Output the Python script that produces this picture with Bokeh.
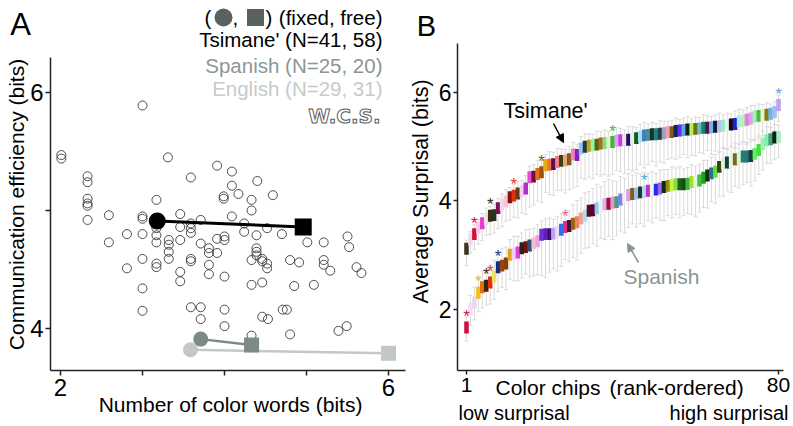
import math
from bokeh.plotting import figure
from bokeh.layouts import row
from bokeh.models import Range1d, FixedTicker, Label, Arrow, NormalHead, Whisker, TeeHead, ColumnDataSource
from bokeh.core.properties import value
from bokeh.embed import file_html
from bokeh.resources import INLINE

FONT = "Liberation Sans"

# ---------------- Panel A data ----------------
wcs_x = [3.00, 2.01, 2.01, 3.31, 2.33, 2.33, 2.33, 2.33, 2.33, 2.33, 2.59, 3.17, 3.00, 3.00, 2.81,
         3.00, 3.17, 3.17, 3.17, 2.59, 3.00, 2.81, 3.17, 3.17, 3.00, 3.00,
         3.32, 3.32, 3.32, 3.32, 3.46, 3.46, 3.46, 3.46, 3.46, 3.59, 3.59, 3.59, 3.59, 3.59, 3.59, 3.59,
         3.71, 3.71, 3.71, 3.71, 3.81, 3.81, 3.81, 3.81, 3.91, 3.91, 3.91, 4.00, 4.00, 4.00, 4.00, 4.00,
         3.99, 3.99, 4.09, 4.09, 4.09, 4.17, 4.24, 4.24, 4.33, 4.33, 4.33, 4.33, 4.40, 4.39, 4.39, 4.39,
         4.39, 4.46, 4.46, 4.46, 4.46, 4.53, 4.52, 4.52, 4.52, 4.59, 4.70, 4.71, 4.33,
         5.01, 5.21, 5.50, 5.52, 4.80, 4.91, 5.21, 5.21, 5.29, 5.61, 5.67, 4.85, 5.09, 4.76, 4.80, 5.39, 5.49]
wcs_y = [5.89, 5.47, 5.44, 5.45, 5.29, 5.24, 5.10, 5.06, 5.04, 4.92, 4.96, 5.09, 4.95, 4.93, 4.80,
         4.80, 4.85, 4.79, 4.73, 4.73, 4.59, 4.51, 4.55, 4.52, 4.34, 4.15,
         4.75, 4.71, 4.65, 4.59, 4.97, 4.86, 4.75, 4.48, 4.40, 5.28, 4.89, 4.85, 4.81, 4.59, 4.57, 4.18,
         4.92, 4.72, 4.18, 4.08, 4.68, 4.64, 4.54, 4.46, 5.38, 4.76, 4.64, 4.78, 4.75, 4.44, 4.16, 4.02,
         5.12, 5.10, 5.33, 5.21, 4.95, 5.14, 4.89, 4.82, 5.09, 5.00, 4.58, 4.37, 5.25, 4.79, 4.68, 4.65,
         4.62, 4.59, 4.57, 4.39, 4.10, 4.08, 4.55, 4.51, 4.85, 5.13, 4.80, 4.16, 3.94,
         4.73, 4.73, 4.78, 4.69, 4.58, 4.56, 4.58, 4.54, 4.49, 4.52, 4.47, 4.36, 4.37, 4.16, 3.95, 3.98, 4.02]

lang_fixed_x = [3.585, 3.71, 3.18]   # English, Spanish, Tsimane'
lang_fixed_y = [3.82, 3.91, 4.91]
lang_free_x = [6.00, 4.33, 4.96]
lang_free_y = [3.79, 3.86, 4.86]
lang_colors = ["#c2c8c6", "#7d8987", "#000000"]
lang_marker_size = [15, 15, 17]
lang_line_w = [2.5, 2.5, 3]
draw_order = [1, 0, 2]  # Spanish, English, Tsimane'

legend_texts = ["Tsimane' (N=41, 58)", "Spanish (N=25, 20)", "English (N=29, 31)"]
legend_colors = ["#000000", "#8b9795", "#c5cbc9"]

xticks_A = [2, 3, 4, 5, 6]
xlabels_A = {3: "", 4: "", 5: ""}
yticks_A = [4, 5, 6]
ylabels_A = {5: ""}

# ---------------- Panel B data ----------------
chip_rank = list(range(1, 81))
tsi_vals = [3.11, 3.28, 3.38, 3.50, 3.58, 3.66, 3.72, 3.73, 3.86, 3.92,
            3.98, 4.06, 4.09, 4.13, 4.17, 4.22, 4.43, 4.44, 4.49, 4.52,
            4.65, 4.66, 4.67, 4.71, 4.73, 4.74, 4.76, 4.85, 4.84, 4.96,
            4.99, 5.01, 5.02, 5.03, 5.05, 5.06, 5.07, 5.08, 5.10, 5.11,
            5.11, 5.12, 5.14, 5.15, 5.18, 5.20, 5.21, 5.22, 5.22, 5.23,
            5.24, 5.26, 5.26, 5.28, 5.29, 5.30, 5.31, 5.31, 5.32, 5.33,
            5.34, 5.34, 5.35, 5.36, 5.37, 5.38, 5.39, 5.40, 5.41, 5.46,
            5.47, 5.49, 5.51, 5.55, 5.56, 5.57, 5.58, 5.60, 5.63, 5.76]
spa_vals = [1.66, 2.00, 2.12, 2.30, 2.40, 2.43, 2.49, 2.60, 2.77, 2.80,
            2.84, 3.00, 3.02, 3.04, 3.12, 3.14, 3.17, 3.21, 3.25, 3.37,
            3.38, 3.38, 3.39, 3.42, 3.46, 3.51, 3.53, 3.57, 3.60, 3.67,
            3.72, 3.81, 3.82, 3.86, 3.88, 3.93, 3.94, 3.96, 3.97, 4.02,
            4.05, 4.10, 4.12, 4.13, 4.15, 4.16, 4.18, 4.19, 4.20, 4.22,
            4.25, 4.27, 4.28, 4.30, 4.30, 4.30, 4.31, 4.34, 4.35, 4.37,
            4.42, 4.46, 4.50, 4.53, 4.62, 4.68, 4.70, 4.71, 4.76, 4.78,
            4.81, 4.81, 4.82, 4.86, 4.93, 5.04, 5.11, 5.13, 5.16, 5.17]
tsi_lo = [0.31, 0.25, 0.28, 0.30, 0.32, 0.30, 0.35, 0.33, 0.38, 0.40,
          0.36, 0.42, 0.40, 0.45, 0.40, 0.48, 0.55, 0.52, 0.50, 0.56,
          0.50, 0.55, 0.58, 0.52, 0.55, 0.60, 0.56, 0.62, 0.58, 0.55,
          0.60, 0.58, 0.62, 0.55, 0.60, 0.58, 0.62, 0.60, 0.55, 0.58,
          0.62, 0.55, 0.60, 0.58, 0.52, 0.60, 0.55, 0.50, 0.58, 0.52,
          0.55, 0.50, 0.48, 0.52, 0.50, 0.45, 0.52, 0.48, 0.50, 0.45,
          0.48, 0.42, 0.50, 0.45, 0.48, 0.42, 0.45, 0.40, 0.45, 0.42,
          0.40, 0.45, 0.38, 0.42, 0.40, 0.38, 0.42, 0.38, 0.35, 0.30]
tsi_hi = [0.16, 0.15, 0.18, 0.15, 0.18, 0.20, 0.17, 0.20, 0.18, 0.20,
          0.22, 0.18, 0.20, 0.22, 0.20, 0.24, 0.20, 0.22, 0.25, 0.22,
          0.20, 0.24, 0.22, 0.25, 0.22, 0.20, 0.24, 0.22, 0.20, 0.22,
          0.24, 0.22, 0.20, 0.25, 0.22, 0.24, 0.20, 0.22, 0.24, 0.22,
          0.20, 0.24, 0.22, 0.20, 0.22, 0.24, 0.20, 0.22, 0.20, 0.24,
          0.22, 0.20, 0.22, 0.24, 0.20, 0.22, 0.24, 0.20, 0.22, 0.20,
          0.24, 0.22, 0.20, 0.22, 0.24, 0.20, 0.22, 0.20, 0.24, 0.22,
          0.20, 0.22, 0.24, 0.20, 0.22, 0.20, 0.22, 0.18, 0.20, 0.18]
spa_lo = [0.25, 0.30, 0.32, 0.35, 0.38, 0.36, 0.40, 0.42, 0.45, 0.40,
          0.48, 0.45, 0.50, 0.52, 0.55, 0.50, 0.58, 0.60, 0.62, 0.75,
          0.80, 0.70, 0.65, 0.72, 0.68, 0.60, 0.66, 0.62, 0.70, 0.64,
          0.60, 0.68, 0.62, 0.70, 0.58, 0.65, 0.60, 0.68, 0.62, 0.58,
          0.65, 0.60, 0.55, 0.62, 0.58, 0.64, 0.55, 0.60, 0.52, 0.58,
          0.62, 0.55, 0.60, 0.56, 0.62, 0.58, 0.55, 0.60, 0.65, 0.58,
          0.55, 0.60, 0.52, 0.58, 0.55, 0.60, 0.52, 0.56, 0.50, 0.55,
          0.52, 0.48, 0.55, 0.50, 0.45, 0.48, 0.42, 0.45, 0.40, 0.38]
spa_hi = [0.20, 0.25, 0.28, 0.26, 0.30, 0.28, 0.32, 0.30, 0.28, 0.32,
          0.30, 0.28, 0.32, 0.30, 0.28, 0.32, 0.30, 0.28, 0.30, 0.25,
          0.28, 0.30, 0.26, 0.28, 0.30, 0.32, 0.28, 0.35, 0.40, 0.38,
          0.42, 0.36, 0.40, 0.44, 0.38, 0.42, 0.45, 0.40, 0.38, 0.42,
          0.36, 0.40, 0.35, 0.38, 0.34, 0.36, 0.32, 0.35, 0.30, 0.34,
          0.32, 0.30, 0.34, 0.30, 0.32, 0.28, 0.30, 0.32, 0.28, 0.30,
          0.32, 0.28, 0.30, 0.32, 0.28, 0.30, 0.26, 0.28, 0.30, 0.26,
          0.28, 0.26, 0.28, 0.25, 0.26, 0.24, 0.25, 0.22, 0.24, 0.22]
tsi_colors = ["#3d3520", "#f3d8e8", "#d0103a", "#f8c8f0", "#e040d0", "#f5dde8", "#3a2a18", "#2a3020", "#7a1050", "#f0d8e8",
              "#f5c8d8", "#8a1010", "#e03010", "#6a3a18", "#f0d0f0", "#b030c0", "#e050d0", "#701040", "#e07010", "#a05010",
              "#e0b010", "#f07040", "#5a1050", "#f08080", "#404010", "#f0a080", "#7a6010", "#f080c0", "#8020c0", "#90c8f0",
              "#203840", "#c0a020", "#a0f0a0", "#407010", "#c06020", "#80e080", "#e8f0c8", "#30c030", "#e0a0f0", "#c040e0",
              "#f0e0f0", "#201060", "#e8eef0", "#106020", "#b0e0f0", "#4080c0", "#4090a0", "#203020", "#208080", "#204040",
              "#a0a0c0", "#f0a0b0", "#806010", "#102060", "#6030e0", "#60a0f0", "#102010", "#b0f060", "#707010", "#60c0c0",
              "#208070", "#402040", "#80b0f0", "#102030", "#c0c0f0", "#90f0c0", "#eef0ee", "#101010", "#2020d0", "#a0f0f0",
              "#c0f0b0", "#e080e0", "#e0a0f0", "#a0f0b0", "#40c040", "#f0f0d0", "#808010", "#70b0f0", "#a0c0f0", "#c0a0f0"]
spa_colors = ["#d01040", "#f0e0f0", "#ecd8f0", "#f0c020", "#e07010", "#3a2010", "#e03010", "#f0e060", "#103080", "#a04010",
              "#804010", "#e0a020", "#f0d0f0", "#e040e0", "#302010", "#701010", "#305070", "#f0c0d0", "#f0a0e0", "#7030d0",
              "#6020c0", "#401070", "#c0a0f0", "#e0e0f0", "#3070f0", "#e03080", "#401040", "#a06010", "#f08060", "#f0a090",
              "#b0e0f0", "#501020", "#600030", "#80d0f0", "#eef0f0", "#e0b0e0", "#901050", "#f090c0", "#40a080", "#8080f0",
              "#f0f0f8", "#e0a0e0", "#806020", "#a0c0e0", "#203830", "#b0d8f0", "#c030c0", "#eef0f0", "#2030e0", "#a060f0",
              "#102818", "#909010", "#d0f040", "#80e040", "#206020", "#105010", "#40b040", "#a0e030", "#e8f0e0", "#40c040",
              "#20a020", "#103010", "#307080", "#60e040", "#404010", "#e0f0e0", "#104030", "#eef0ee", "#707010", "#e0f0e0",
              "#208070", "#307070", "#104040", "#60f060", "#40e040", "#a0f0b0", "#80f0b0", "#40a070", "#102010", "#a0f0c0"]
tsi_star_idx = [3, 7, 13, 20, 38, 80]
tsi_star_col = ["#d0103a", "#3a2a20", "#e04020", "#8a5a20", "#40c040", "#70a0e0"]
spa_star_idx = [1, 4, 6, 7, 9, 26, 46]
spa_star_col = ["#c02060", "#f0c020", "#3a2a20", "#e04020", "#203c90", "#f060a0", "#40b0e0"]
xticks_B = [1, 80]
yticks_B = [2, 4, 6]

# ---------------- geometry helpers (reference pixel -> data) ----------------
def ax(rx): return 2 + (rx - 60) / 82.0
def ay(ry): return 4 + (328 - ry) / 118.0
def bx(rx): return 1 + (rx - 466) / 3.95
def by(ry): return 4 + (200 - ry) / 54.25

AXIS_COL = "#222222"
H = 426
SPLIT = 408

def lab(p, x, y, text, size, color="#000000", align="left", baseline="middle", angle=0, style="normal", **kw):
    p.add_layout(Label(x=x, y=y, text=text, text_font=kw.pop("font", FONT), text_font_size=size, text_color=color,
                       text_align=align, text_baseline=baseline, angle=angle, text_font_style=style, **kw))

def style_axis(a, tick_out, size):
    a.axis_line_color = AXIS_COL
    a.axis_line_width = 1.5
    a.major_tick_line_color = AXIS_COL
    a.major_tick_line_width = 1.5
    a.major_tick_in = 0
    a.major_tick_out = tick_out
    a.minor_tick_line_color = None
    a.major_label_text_font = FONT
    a.major_label_text_font_size = size
    a.major_label_text_color = "#000000"

# ---------------- Panel A ----------------
pA = figure(width=SPLIT, height=H, x_range=Range1d(ax(0), ax(SPLIT)), y_range=Range1d(ay(H), ay(0)),
            toolbar_location=None, output_backend="svg", min_border=0)
pA.outline_line_color = None
pA.grid.visible = False
style_axis(pA.xaxis[0], 5, "24px")
style_axis(pA.yaxis[0], 5, "24px")
pA.xaxis.ticker = FixedTicker(ticks=xticks_A)
pA.xaxis.major_label_overrides = xlabels_A
pA.xaxis.bounds = (ax(50), ax(405))
pA.xaxis.fixed_location = ay(370)
pA.xaxis.major_label_standoff = 3
pA.yaxis.ticker = FixedTicker(ticks=yticks_A)
pA.yaxis.major_label_overrides = ylabels_A
pA.yaxis.bounds = (ay(370), ay(57))
pA.yaxis.fixed_location = ax(50)
pA.yaxis.major_label_standoff = 2

pA.scatter(wcs_x, wcs_y, marker="circle", size=9, fill_color=None, line_color="#3a3a3a", line_width=0.9)
for i in draw_order:
    pA.line([lang_fixed_x[i], lang_free_x[i]], [lang_fixed_y[i], lang_free_y[i]],
            line_color=lang_colors[i], line_width=lang_line_w[i])
for i in draw_order:
    pA.scatter([lang_fixed_x[i]], [lang_fixed_y[i]], marker="circle", size=lang_marker_size[i],
               fill_color=lang_colors[i], line_color=None)
    pA.scatter([lang_free_x[i]], [lang_free_y[i]], marker="square", size=lang_marker_size[i],
               fill_color=lang_colors[i], line_color=None)

# legend
LEG = "20.5px"
L1 = 17
pA.scatter([ax(223)], [ay(L1)], marker="circle", size=18, fill_color="#59625f", line_color=None)
pA.scatter([ax(255)], [ay(L1)], marker="square", size=17, fill_color="#59625f", line_color=None)
lab(pA, ax(204), ay(L1), "(", LEG)
lab(pA, ax(232), ay(L1), ",", LEG)
lab(pA, ax(265), ay(L1), ")", LEG)
lab(pA, ax(382), ay(L1), "(fixed, free)", LEG, align="right")
for k, ry in enumerate([39, 65, 88]):
    lab(pA, ax(382), ay(ry), legend_texts[k], LEG, color=legend_colors[k], align="right")
lab(pA, ax(380), ay(115), "W.C.S.", "20px", color="#ffffff", align="right", style="bold",
    text_outline_color="#5a5a5a", font="DejaVu Sans")

lab(pA, ax(20), ay(24), "A", "31px", align="center")
lab(pA, ax(16), ay(204), "Communication efficiency (bits)", "21px", align="center", angle=math.pi / 2)
lab(pA, ax(230), ay(404), "Number of color words (bits)", "21px", align="center")

# ---------------- Panel B ----------------
pB = figure(width=793 - SPLIT, height=H, x_range=Range1d(bx(SPLIT), bx(793)), y_range=Range1d(by(H), by(0)),
            toolbar_location=None, output_backend="svg", min_border=0)
pB.outline_line_color = None
pB.grid.visible = False
style_axis(pB.xaxis[0], 4, "21px")
style_axis(pB.yaxis[0], 4, "23px")
pB.xaxis.ticker = FixedTicker(ticks=xticks_B)
pB.xaxis.major_label_standoff = 3
pB.xaxis.bounds = (bx(457), bx(783))
pB.xaxis.fixed_location = by(370)
pB.yaxis.ticker = FixedTicker(ticks=yticks_B)
pB.yaxis.major_label_standoff = 2
pB.yaxis.bounds = (by(370), by(43))
pB.yaxis.fixed_location = bx(457)

EB = "#dadada"
for vals, lo, hi, cols in ((tsi_vals, tsi_lo, tsi_hi, tsi_colors), (spa_vals, spa_lo, spa_hi, spa_colors)):
    src = ColumnDataSource(dict(x=chip_rank, y=vals,
                                lower=[v - d for v, d in zip(vals, lo)],
                                upper=[v + d for v, d in zip(vals, hi)], c=cols))
    w = Whisker(base="x", upper="upper", lower="lower", source=src, dimension="height",
                line_color=EB, line_width=1,
                upper_head=TeeHead(size=4, line_color=EB, line_width=1),
                lower_head=TeeHead(size=4, line_color=EB, line_width=1))
    w.level = "underlay"
    pB.add_layout(w)
    pB.rect(x="x", y="y", width=1.15, height=0.22, fill_color="c", line_color=None, source=src)

for idxs, cols, vals in ((tsi_star_idx, tsi_star_col, tsi_vals), (spa_star_idx, spa_star_col, spa_vals)):
    pB.text(x=idxs, y=[vals[i - 1] + 0.2 for i in idxs], text=["*"] * len(idxs), text_color=cols,
            text_font=value(FONT), text_font_size="17px", text_align="center", text_baseline="middle")

pB.add_layout(Arrow(x_start=bx(553), y_start=by(123), x_end=bx(563), y_end=by(142),
                    line_color="#000000", line_width=1.5,
                    end=NormalHead(size=8, fill_color="#000000", line_color="#000000")))
pB.add_layout(Arrow(x_start=bx(638), y_start=by(262), x_end=bx(627), y_end=by(243),
                    line_color="#8a9694", line_width=1.5,
                    end=NormalHead(size=8, fill_color="#8a9694", line_color="#8a9694")))
lab(pB, bx(503), by(110), "Tsimane'", "21.5px")
lab(pB, bx(623), by(276), "Spanish", "21px", color="#8a9694")

lab(pB, bx(426), by(25), "B", "29px", align="center")
lab(pB, bx(420), by(191), "Average Surprisal (bits)", "21.5px", align="center", angle=math.pi / 2)
lab(pB, bx(495), by(387), "Color chips", "21px")
lab(pB, bx(609), by(387), "(rank-ordered)", "21px")
lab(pB, bx(458), by(412), "low surprisal", "20px")
lab(pB, bx(788), by(412), "high surprisal", "20px", align="right")

layout = row(pA, pB)
open("out.html", "w").write(file_html(layout, INLINE))
